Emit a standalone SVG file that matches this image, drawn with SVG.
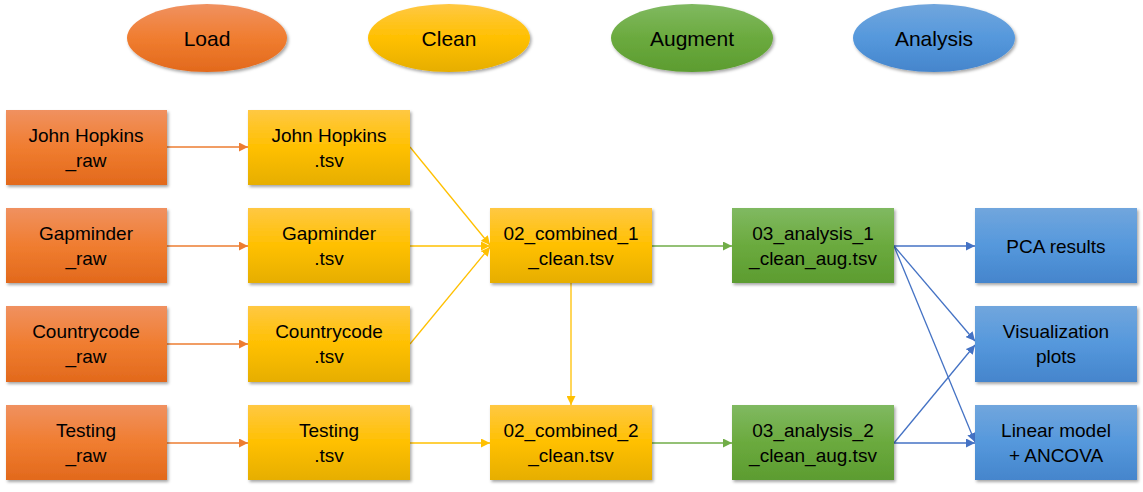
<svg xmlns="http://www.w3.org/2000/svg" width="1143" height="492" viewBox="0 0 1143 492">
<defs>
<linearGradient id="gO" x1="0" y1="0" x2="0" y2="1"><stop offset="0" stop-color="#F09160"/><stop offset="0.5" stop-color="#F07D30"/><stop offset="1" stop-color="#E2691C"/></linearGradient>
<linearGradient id="gY" x1="0" y1="0" x2="0" y2="1"><stop offset="0" stop-color="#FFC843"/><stop offset="0.5" stop-color="#FFC000"/><stop offset="1" stop-color="#E6AE00"/></linearGradient>
<linearGradient id="gG" x1="0" y1="0" x2="0" y2="1"><stop offset="0" stop-color="#80B961"/><stop offset="0.5" stop-color="#6BAA3E"/><stop offset="1" stop-color="#5C9C30"/></linearGradient>
<linearGradient id="gB" x1="0" y1="0" x2="0" y2="1"><stop offset="0" stop-color="#71A6DD"/><stop offset="0.5" stop-color="#5598DC"/><stop offset="1" stop-color="#4585CC"/></linearGradient>
<filter id="sh" x="-10%" y="-10%" width="125%" height="130%"><feDropShadow dx="1.5" dy="2" stdDeviation="1.5" flood-color="#000" flood-opacity="0.35"/></filter>
<marker id="aO" viewBox="0 0 10 10" refX="10" refY="5" markerWidth="9" markerHeight="9" markerUnits="userSpaceOnUse" orient="auto"><path d="M0,0 L10,5 L0,10 z" fill="#ED7D31"/></marker>
<marker id="aY" viewBox="0 0 10 10" refX="10" refY="5" markerWidth="9" markerHeight="9" markerUnits="userSpaceOnUse" orient="auto"><path d="M0,0 L10,5 L0,10 z" fill="#FFC000"/></marker>
<marker id="aG" viewBox="0 0 10 10" refX="10" refY="5" markerWidth="9" markerHeight="9" markerUnits="userSpaceOnUse" orient="auto"><path d="M0,0 L10,5 L0,10 z" fill="#70AD47"/></marker>
<marker id="aB" viewBox="0 0 10 10" refX="10" refY="5" markerWidth="9" markerHeight="9" markerUnits="userSpaceOnUse" orient="auto"><path d="M0,0 L10,5 L0,10 z" fill="#4472C4"/></marker>
</defs>
<style>
text{font-family:"Liberation Sans",Arial,sans-serif;font-size:19px;fill:#000;text-anchor:middle}
.lg{font-size:21px}
.box{filter:url(#sh)}
.o{fill:url(#gO)}.y{fill:url(#gY)}.g{fill:url(#gG)}.b{fill:url(#gB)}
.c{fill:none;stroke-width:1.3}
.co{stroke:#ED7D31;marker-end:url(#aO)}
.cy{stroke:#FFC000;marker-end:url(#aY)}
.cg{stroke:#70AD47;marker-end:url(#aG)}
.cb{stroke:#4472C4;marker-end:url(#aB)}
</style>
<rect width="1143" height="492" fill="#fff"/>
<g id="legend">
<g id="leg-load"><ellipse class="box o" cx="207" cy="38" rx="80" ry="34"/><text class="lg" x="207" y="46">Load</text></g>
<g id="leg-clean"><ellipse class="box y" cx="449" cy="38" rx="81" ry="34"/><text class="lg" x="449" y="46">Clean</text></g>
<g id="leg-augment"><ellipse class="box g" cx="692" cy="38" rx="81" ry="34"/><text class="lg" x="692" y="46">Augment</text></g>
<g id="leg-analysis"><ellipse class="box b" cx="934" cy="38" rx="81" ry="34"/><text class="lg" x="934" y="46">Analysis</text></g>
</g>
<g id="connectors">
<line class="c co" x1="167" y1="147" x2="248" y2="147"/>
<line class="c co" x1="167" y1="246" x2="248" y2="246"/>
<line class="c co" x1="167" y1="344" x2="248" y2="344"/>
<line class="c co" x1="167" y1="443" x2="248" y2="443"/>
<line class="c cy" x1="410" y1="147" x2="490" y2="245"/>
<line class="c cy" x1="410" y1="246" x2="490" y2="246"/>
<line class="c cy" x1="410" y1="344" x2="490" y2="247"/>
<line class="c cy" x1="410" y1="443" x2="490" y2="443"/>
<line class="c cy" x1="571" y1="283" x2="571" y2="405"/>
<line class="c cg" x1="652" y1="246" x2="732" y2="246"/>
<line class="c cg" x1="652" y1="443" x2="732" y2="443"/>
<line class="c cb" x1="894" y1="246" x2="975" y2="246"/>
<line class="c cb" x1="894" y1="246" x2="975" y2="341"/>
<line class="c cb" x1="894" y1="246" x2="975" y2="442"/>
<line class="c cb" x1="894" y1="443" x2="975" y2="345"/>
<line class="c cb" x1="894" y1="443" x2="975" y2="443"/>
</g>
<g id="jh-raw"><rect class="box o" x="6" y="110" width="161" height="75"/><text x="86" y="142">John Hopkins</text><text x="86" y="167">_raw</text></g>
<g id="gap-raw"><rect class="box o" x="6" y="208" width="161" height="75"/><text x="86" y="240">Gapminder</text><text x="86" y="265">_raw</text></g>
<g id="cc-raw"><rect class="box o" x="6" y="306" width="161" height="76"/><text x="86" y="338">Countrycode</text><text x="86" y="363">_raw</text></g>
<g id="test-raw"><rect class="box o" x="6" y="405" width="161" height="75"/><text x="86" y="437">Testing</text><text x="86" y="462">_raw</text></g>
<g id="jh-tsv"><rect class="box y" x="248" y="110" width="162" height="75"/><text x="329" y="142">John Hopkins</text><text x="329" y="167">.tsv</text></g>
<g id="gap-tsv"><rect class="box y" x="248" y="208" width="162" height="75"/><text x="329" y="240">Gapminder</text><text x="329" y="265">.tsv</text></g>
<g id="cc-tsv"><rect class="box y" x="248" y="306" width="162" height="76"/><text x="329" y="338">Countrycode</text><text x="329" y="363">.tsv</text></g>
<g id="test-tsv"><rect class="box y" x="248" y="405" width="162" height="75"/><text x="329" y="437">Testing</text><text x="329" y="462">.tsv</text></g>
<g id="comb1"><rect class="box y" x="490" y="208" width="162" height="75"/><text x="571" y="240">02_combined_1</text><text x="571" y="265">_clean.tsv</text></g>
<g id="comb2"><rect class="box y" x="490" y="405" width="162" height="75"/><text x="571" y="437">02_combined_2</text><text x="571" y="462">_clean.tsv</text></g>
<g id="ana1"><rect class="box g" x="732" y="208" width="162" height="75"/><text x="813" y="240">03_analysis_1</text><text x="813" y="265">_clean_aug.tsv</text></g>
<g id="ana2"><rect class="box g" x="732" y="405" width="162" height="75"/><text x="813" y="437">03_analysis_2</text><text x="813" y="462">_clean_aug.tsv</text></g>
<g id="pca"><rect class="box b" x="975" y="208" width="162" height="75"/><text x="1056" y="253">PCA results</text></g>
<g id="viz"><rect class="box b" x="975" y="306" width="162" height="76"/><text x="1056" y="338">Visualization</text><text x="1056" y="363">plots</text></g>
<g id="lm"><rect class="box b" x="975" y="405" width="162" height="75"/><text x="1056" y="437">Linear model</text><text x="1056" y="462">+ ANCOVA</text></g>
</svg>
